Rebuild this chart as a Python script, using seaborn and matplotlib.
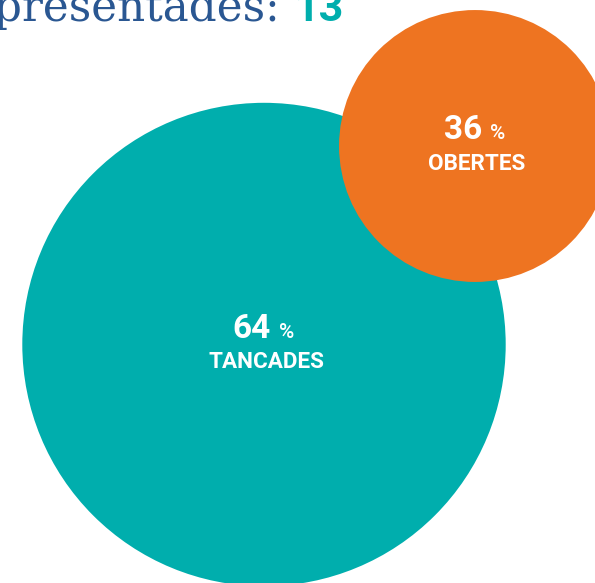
import matplotlib
matplotlib.use("Agg")
import matplotlib.pyplot as plt
import pandas as pd
import seaborn as sns

# Share of questions by status
estats = ["TANCADES", "OBERTES"]
percentatges = [64, 36]
colors = ["#00AEAD", "#EE7421"]
total_preguntes = 13
titol = "presentades: "

# Bubble centres in pixel space of the canvas
centre_x = [264, 475]
centre_y = [344.5, 146]
PX_PER_UNIT = 241.7 / 64  # bubble radius in px per percentage point

W, H, DPI = 595, 583, 100

sns.set_theme(style="white")
plt.rcParams["font.family"] = ["Roboto", "DejaVu Sans"]

df = pd.DataFrame({
    "estat": estats,
    "pct": percentatges,
    "x": centre_x,
    "y": centre_y,
})

# marker area in pt^2 so that the drawn radius is proportional to the value
def area_pt2(v):
    diam_px = 2 * v * PX_PER_UNIT
    return (diam_px * 72 / DPI) ** 2

sizes = {v: area_pt2(v) for v in percentatges}

fig = plt.figure(figsize=(W / DPI, H / DPI), dpi=DPI)
ax = fig.add_axes([0, 0, 1, 1])
sns.scatterplot(
    data=df, x="x", y="y", hue="estat", size="pct",
    sizes=sizes, palette=dict(zip(estats, colors)),
    linewidth=0, legend=False, ax=ax, alpha=1,
)
ax.set_xlim(0, W)
ax.set_ylim(H, 0)
ax.set_axis_off()

for _, r in df.iterrows():
    cx, cy = r["x"], r["y"]
    ax.text(cx + 7, cy - 7, f"{r['pct']}", ha="right", va="baseline",
            color="white", fontsize=24, fontweight="bold")
    ax.text(cx + 15, cy - 7, "%", ha="left", va="baseline",
            color="white", fontsize=15, fontweight="medium")
    ax.text(cx + 2, cy + 23.5, r["estat"], ha="center", va="baseline",
            color="white", fontsize=16.2, fontweight="bold")

# Heading: label in serif, count in bold sans
ax.text(294, 21, titol, ha="right", va="baseline", color="#2A5792",
        fontsize=31.5, family="DejaVu Serif")
ax.text(294, 21, f"{total_preguntes}", ha="left", va="baseline",
        color="#00AEAD", fontsize=31, fontweight="bold")

fig.savefig("out.png", dpi=DPI)
